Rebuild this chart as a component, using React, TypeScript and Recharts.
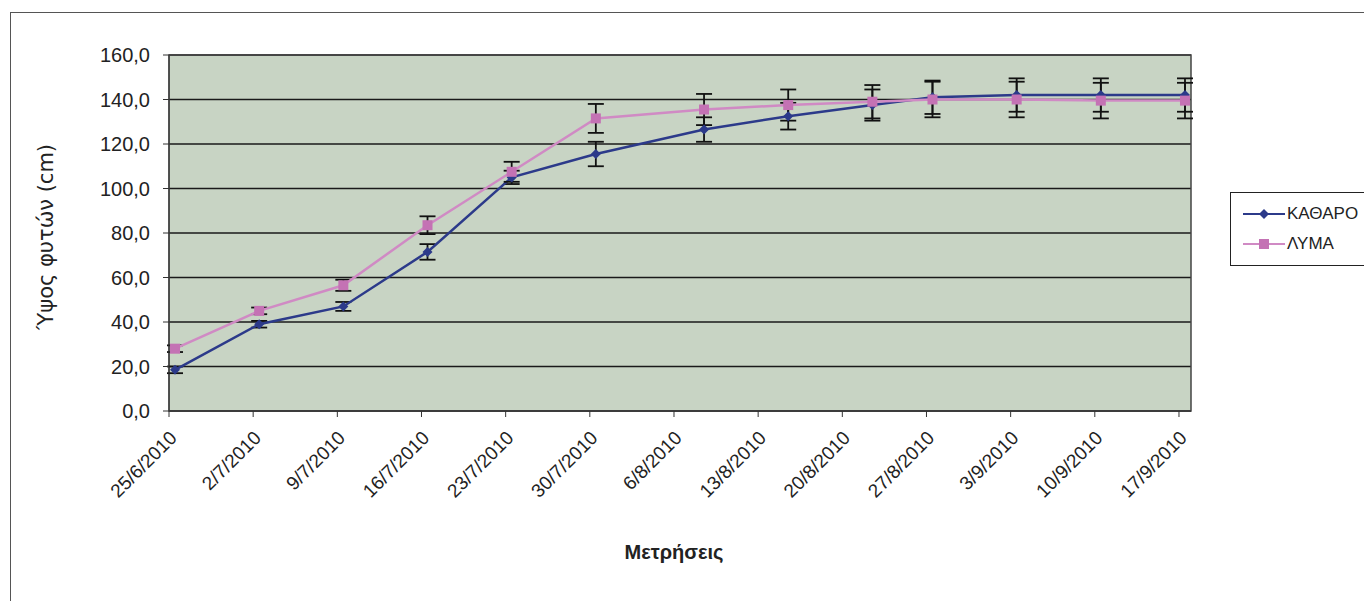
import React from "react";
import {
  CartesianGrid,
  ErrorBar,
  Legend,
  Line,
  LineChart,
  ReferenceArea,
  XAxis,
  YAxis,
} from "recharts";

// measurement dates (d/m/yyyy)
const dates = [
  "25/6/2010", "2/7/2010", "9/7/2010", "16/7/2010", "23/7/2010", "30/7/2010",
  "8/8/2010", "15/8/2010", "22/8/2010", "27/8/2010", "3/9/2010", "10/9/2010",
  "17/9/2010",
];

// x-axis tick labels (weekly)
const tickDates = [
  "25/6/2010", "2/7/2010", "9/7/2010", "16/7/2010", "23/7/2010", "30/7/2010",
  "6/8/2010", "13/8/2010", "20/8/2010", "27/8/2010", "3/9/2010", "10/9/2010",
  "17/9/2010",
];

const katharo = [18.5, 39, 47, 71.5, 105, 115.5, 126.5, 132.5, 137.5, 141, 142, 142, 142];
const katharoErr = [1.5, 1.5, 2, 3.5, 3, 5.5, 5.5, 6, 7, 7.5, 7.5, 7.5, 7.5];
const lyma = [28, 45, 56.5, 83.5, 107.5, 131.5, 135.5, 137.5, 139, 140, 140, 139.5, 139.5];
const lymaErr = [1.5, 1.5, 2.5, 4, 4.5, 6.5, 7, 7, 7.5, 8, 8, 8, 8];

const yTicks = [0, 20, 40, 60, 80, 100, 120, 140, 160];

const BLUE = "#2c3a8a";
const PINK = "#d08ac4";
const PINK_DOT = "#c472b4";

const toDay = (s: string) => {
  const [d, m, y] = s.split("/").map(Number);
  return Date.UTC(y, m - 1, d) / 86400000;
};
const day0 = toDay(dates[0]);

// points sit in the middle of their day, like Excel's date axis
const data = dates.map((d, i) => ({
  day: toDay(d) - day0 + 0.5,
  katharo: katharo[i],
  katharoErr: katharoErr[i],
  lyma: lyma[i],
  lymaErr: lymaErr[i],
}));

const xTicks = tickDates.map((d) => toDay(d) - day0);
const labelFor = (v: number) => tickDates[xTicks.indexOf(v)] ?? "";

const FONT = "Arial, 'Liberation Sans', sans-serif";

const DateTick = (props: any) => {
  const { x, y, payload } = props;
  return (
    <g transform={`translate(${x},${y})`}>
      <text
        x={9}
        y={20}
        transform="rotate(-45, 9, 20)"
        textAnchor="end"
        fontSize={19}
        fontFamily={FONT}
        fill="#222"
      >
        {labelFor(payload.value)}
      </text>
    </g>
  );
};

const Diamond = (props: any) => {
  const { cx, cy } = props;
  if (cx == null || cy == null) return null;
  const r = 5;
  return (
    <polygon
      points={`${cx},${cy - r} ${cx + r},${cy} ${cx},${cy + r} ${cx - r},${cy}`}
      fill={BLUE}
    />
  );
};

const Square = (props: any) => {
  const { cx, cy } = props;
  if (cx == null || cy == null) return null;
  return <rect x={cx - 5} y={cy - 5} width={10} height={10} fill={PINK_DOT} />;
};

const LegendBox = () => (
  <div
    style={{
      border: "1px solid #222",
      background: "#fff",
      width: 150,
      height: 74,
      boxSizing: "border-box",
      fontFamily: FONT,
      fontSize: 17,
      color: "#222",
      paddingTop: 6,
    }}
  >
    {[
      { name: "ΚΑΘΑΡΟ", color: BLUE, shape: "d" },
      { name: "ΛΥΜΑ", color: PINK, shape: "s" },
    ].map((e) => (
      <div key={e.name} style={{ display: "flex", alignItems: "center", height: 30 }}>
        <svg width={56} height={14} style={{ marginLeft: 10 }}>
          <line x1={2} y1={7} x2={44} y2={7} stroke={e.color} strokeWidth={2} />
          {e.shape === "d" ? (
            <polygon points="23,2 28,7 23,12 18,7" fill={BLUE} />
          ) : (
            <rect x={18} y={2} width={10} height={10} fill={PINK_DOT} />
          )}
        </svg>
        <span style={{ marginLeft: -10 }}>{e.name}</span>
      </div>
    ))}
  </div>
);

export default function App() {
  return (
    <div
      style={{
        position: "absolute",
        left: 0,
        top: 0,
        width: 1364,
        height: 601,
        background: "#fff",
        overflow: "hidden",
      }}
    >
      <div
        style={{
          position: "absolute",
          left: 10,
          top: 12,
          width: 1360,
          height: 600,
          borderTop: "1px solid #555",
          borderLeft: "1px solid #555",
        }}
      />
      <LineChart
        width={1364}
        height={601}
        data={data}
        margin={{ top: 55, right: 173, left: 103, bottom: 0 }}
        style={{ position: "absolute", left: 0, top: 0 }}
      >
        <CartesianGrid
          vertical={false}
          stroke="#1a1a1a"
          strokeWidth={1.3}
          fill="#c8d4c4"
          fillOpacity={1}
        />
        <ReferenceArea
          x1={0}
          x2={85}
          y1={0}
          y2={160}
          fill="none"
          stroke="#444"
          strokeWidth={1.5}
          ifOverflow="visible"
        />
        <XAxis
          dataKey="day"
          type="number"
          domain={[0, 85]}
          ticks={xTicks}
          interval={0}
          height={190}
          tick={<DateTick />}
          tickSize={6}
          stroke="#333"
          label={{
            content: (p: any) => (
              <text
                x={p.viewBox.x + p.viewBox.width / 2 - 6}
                y={p.viewBox.y + 148}
                textAnchor="middle"
                fontSize={20}
                fontWeight="bold"
                fontFamily={FONT}
                fill="#222"
              >
                Μετρήσεις
              </text>
            ),
          }}
        />
        <YAxis
          type="number"
          domain={[0, 160]}
          ticks={yTicks}
          interval={0}
          width={66}
          tickSize={6}
          tickMargin={13}
          stroke="#333"
          tick={{ fontSize: 20, fontFamily: FONT, fill: "#222" }}
          tickFormatter={(v: number) => v.toFixed(1).replace(".", ",")}
          label={{
            content: (p: any) => {
              const x = p.viewBox.x - 50;
              const y = p.viewBox.y + p.viewBox.height / 2 + 4;
              return (
                <text
                  x={x}
                  y={y}
                  transform={`rotate(-90, ${x}, ${y})`}
                  textAnchor="middle"
                  fontSize={21}
                  fontFamily="'DejaVu Sans', Verdana, sans-serif"
                  fill="#222"
                >
                  Ύψος φυτών (cm)
                </text>
              );
            },
          }}
        />
        <Legend
          layout="horizontal"
          verticalAlign="middle"
          align="center"
          content={<LegendBox />}
          wrapperStyle={{ left: 1230, top: 192, width: 150, height: 74 }}
        />
        <Line
          type="linear"
          dataKey="katharo"
          name="ΚΑΘΑΡΟ"
          stroke={BLUE}
          strokeWidth={2.5}
          dot={<Diamond />}
          activeDot={false}
          isAnimationActive={false}
        >
          <ErrorBar dataKey="katharoErr" direction="y" width={8} stroke="#111" strokeWidth={1.8} />
        </Line>
        <Line
          type="linear"
          dataKey="lyma"
          name="ΛΥΜΑ"
          stroke={PINK}
          strokeWidth={2.5}
          dot={<Square />}
          activeDot={false}
          isAnimationActive={false}
        >
          <ErrorBar dataKey="lymaErr" direction="y" width={8} stroke="#111" strokeWidth={1.8} />
        </Line>
      </LineChart>
    </div>
  );
}
